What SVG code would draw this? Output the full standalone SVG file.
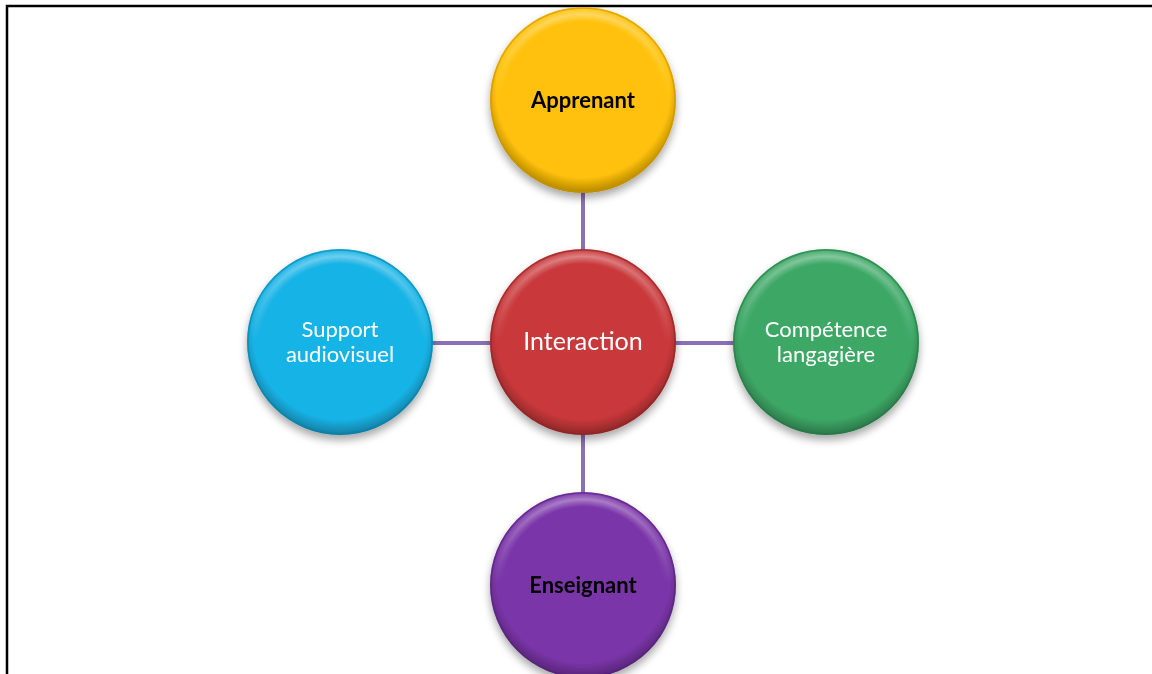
<svg xmlns="http://www.w3.org/2000/svg" width="1152" height="674" viewBox="0 0 1152 674">
<defs>
<style>
.conn{stroke:#8B70B5;stroke-width:4;fill:none}
.lbl{font-family:Lato,"Open Sans","Liberation Sans",sans-serif;text-anchor:middle}
.w{fill:#ffffff;font-size:22px}
.big{font-size:25px}
.b{fill:#000000;font-size:22px;font-weight:bold}
.hl{fill:url(#hl)}
.edge{fill:url(#edge)}
.ring{fill:none;stroke-width:1.5;stroke-opacity:0.55}
</style>
<filter id="sh" x="-20%" y="-20%" width="140%" height="150%">
<feGaussianBlur in="SourceAlpha" stdDeviation="4"/>
<feOffset dx="0" dy="5" result="o"/>
<feComponentTransfer><feFuncA type="linear" slope="0.35"/></feComponentTransfer>
<feMerge><feMergeNode/><feMergeNode in="SourceGraphic"/></feMerge>
</filter>
<radialGradient id="hl" cx="0.5" cy="0.5" r="0.5">
<stop offset="0.84" stop-color="#ffffff" stop-opacity="0"/>
<stop offset="0.92" stop-color="#ffffff" stop-opacity="0.4"/>
<stop offset="1" stop-color="#ffffff" stop-opacity="0"/>
</radialGradient>
<linearGradient id="hlmask" x1="0" y1="0" x2="0" y2="1">
<stop offset="0" stop-color="#fff" stop-opacity="1"/>
<stop offset="0.5" stop-color="#fff" stop-opacity="0"/>
</linearGradient>
<radialGradient id="edge" cx="0.5" cy="0.45" r="0.55">
<stop offset="0.85" stop-color="#000" stop-opacity="0"/>
<stop offset="1" stop-color="#000" stop-opacity="0.3"/>
</radialGradient>
<mask id="topm" maskContentUnits="objectBoundingBox"><rect x="0" y="0" width="1" height="1" fill="url(#hlmask)"/></mask>
</defs>
<rect width="1152" height="674" fill="#ffffff"/>
<path d="M7 674 V6 H1152" fill="none" stroke="#000" stroke-width="2.5"/>
<g id="connectors">
<line class="conn" x1="583" y1="190" x2="583" y2="252"/>
<line class="conn" x1="583" y1="432" x2="583" y2="496"/>
<line class="conn" x1="430" y1="343" x2="493" y2="343"/>
<line class="conn" x1="673" y1="343" x2="737" y2="343"/>
</g>
<g id="apprenant" filter="url(#sh)">
<circle cx="583" cy="100" r="93" fill="#FFC107"/>
<circle cx="583" cy="100" r="93" class="edge"/>
<circle cx="583" cy="100" r="93" class="hl" mask="url(#topm)"/>
<circle cx="583" cy="100" r="92" class="ring" stroke="#C89400"/>
<text class="lbl b" x="583" y="108">Apprenant</text>
</g>
<g id="interaction" filter="url(#sh)">
<circle cx="583" cy="342" r="93" fill="#C9383A"/>
<circle cx="583" cy="342" r="93" class="edge"/>
<circle cx="583" cy="342" r="93" class="hl" mask="url(#topm)"/>
<circle cx="583" cy="342" r="92" class="ring" stroke="#8E2224"/>
<text class="lbl w big" x="583" y="350">Interaction</text>
</g>
<g id="enseignant" filter="url(#sh)">
<circle cx="583" cy="585" r="93" fill="#7A35A8"/>
<circle cx="583" cy="585" r="93" class="edge"/>
<circle cx="583" cy="585" r="93" class="hl" mask="url(#topm)"/>
<circle cx="583" cy="585" r="92" class="ring" stroke="#55217A"/>
<text class="lbl b" x="583" y="593">Enseignant</text>
</g>
<g id="support" filter="url(#sh)">
<circle cx="340" cy="342" r="93" fill="#17B3E6"/>
<circle cx="340" cy="342" r="93" class="edge"/>
<circle cx="340" cy="342" r="93" class="hl" mask="url(#topm)"/>
<circle cx="340" cy="342" r="92" class="ring" stroke="#0B7FA8"/>
<text class="lbl w" x="340" y="337">Support</text>
<text class="lbl w" x="340" y="362">audiovisuel</text>
</g>
<g id="competence" filter="url(#sh)">
<circle cx="826" cy="342" r="93" fill="#3DA866"/>
<circle cx="826" cy="342" r="93" class="edge"/>
<circle cx="826" cy="342" r="93" class="hl" mask="url(#topm)"/>
<circle cx="826" cy="342" r="92" class="ring" stroke="#257845"/>
<text class="lbl w" x="826" y="337">Compétence</text>
<text class="lbl w" x="826" y="362">langagière</text>
</g>
</svg>
